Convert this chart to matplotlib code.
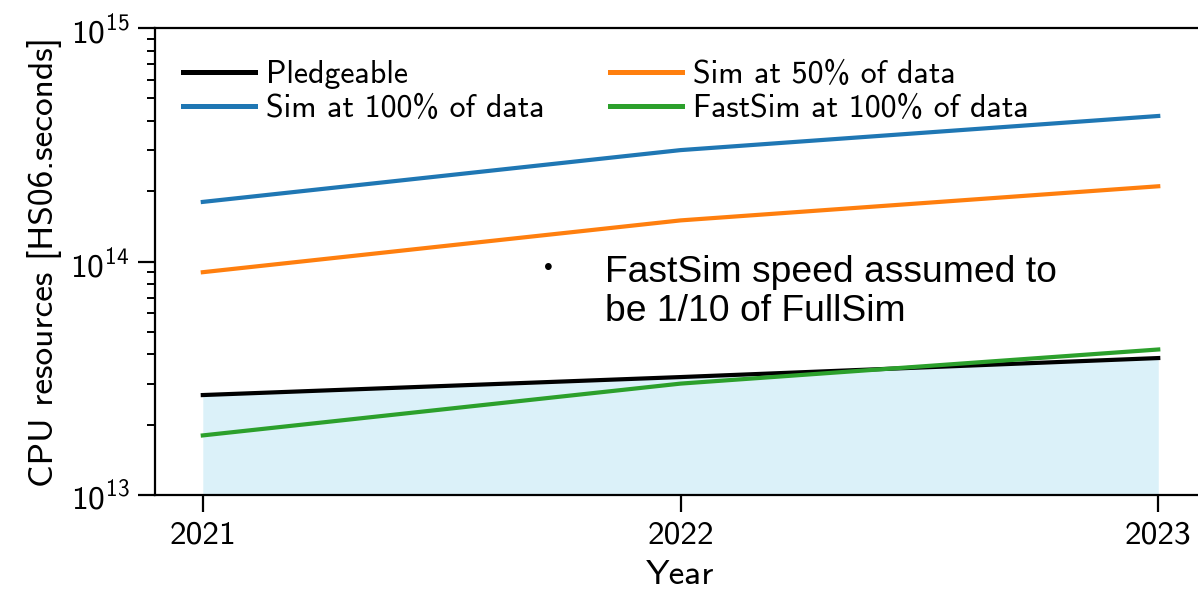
import matplotlib
matplotlib.use("Agg")
import matplotlib.pyplot as plt

plt.rcParams["font.family"] = ["cmss10", "DejaVu Sans"]
plt.rcParams["mathtext.fontset"] = "custom"
plt.rcParams["mathtext.rm"] = "cmss10"
plt.rcParams["mathtext.it"] = "cmss10"
plt.rcParams["mathtext.bf"] = "cmss10"
plt.rcParams["axes.formatter.use_mathtext"] = True

years = [2021, 2022, 2023]
pledgeable = [2.68e13, 3.2e13, 3.86e13]
sim_100 = [1.8e14, 3.0e14, 4.2e14]
sim_50 = [9.0e13, 1.5e14, 2.1e14]
fastsim_100 = [1.8e13, 3.0e13, 4.2e13]

fig = plt.figure(figsize=(11.98, 5.91), dpi=100)
ax = fig.add_axes([0.1294, 0.1624, 0.8773, 0.7902])

ax.fill_between(years, 1e13, pledgeable, color="#dbf1f9", lw=0, zorder=0)
ax.plot(years, pledgeable, color="black", lw=3, label="Pledgeable")
ax.plot(years, sim_100, color="#1f77b4", lw=3, label="Sim at 100% of data")
ax.plot(years, sim_50, color="#ff7f0e", lw=3, label="Sim at 50% of data")
ax.plot(years, fastsim_100, color="#2ca02c", lw=3, label="FastSim at 100% of data")

ax.set_yscale("log")
ax.set_ylim(1e13, 1e15)
ax.set_xlim(2020.9, 2023.1)
ax.set_xticks(years)
ax.set_xticklabels([str(y) for y in years])

for s in ax.spines.values():
    s.set_linewidth(1.6)
ax.tick_params(which="major", length=12, width=1.6, labelsize=24, pad=6)
ax.tick_params(which="minor", length=6, width=1.4)
ax.tick_params(axis="y", which="minor", labelleft=False)

ax.set_xlabel("Year", fontsize=25.5, labelpad=8)
ax.set_ylabel("CPU resources [HS06.seconds]", fontsize=25.5, labelpad=6)

leg = ax.legend(loc="upper left", ncol=2, frameon=False, fontsize=23,
                handlelength=2.25, handletextpad=0.35, columnspacing=2.04,
                borderaxespad=0.3, labelspacing=0.18,
                bbox_to_anchor=(0.0055, 0.98))
for line in leg.get_lines():
    line.set_linewidth(3.6)

ax.text(2021.724, 9.4e13, "\u2022", fontsize=18, family="Liberation Sans",
        ha="center", va="center")
ax.text(2021.841, 7.37e13, "FastSim speed assumed to\nbe 1/10 of FullSim",
        fontsize=26.8, family="Liberation Sans", ha="left", va="center",
        linespacing=1.15)

fig.savefig("out.png", dpi=100)
